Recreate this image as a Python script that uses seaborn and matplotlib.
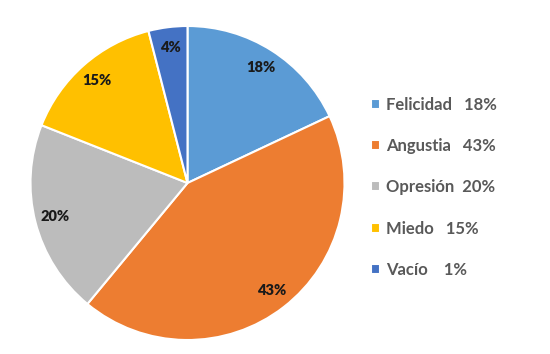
import matplotlib
matplotlib.use("Agg")
import matplotlib.pyplot as plt
import seaborn as sns
import numpy as np

sns.set_theme(style="white")
plt.rcParams['font.family'] = ['Lato', 'DejaVu Sans']

categories = ["Felicidad", "Angustia", "Opresión", "Miedo", "Vacío"]
values = [18, 43, 20, 15, 4]
pie_labels = ["18%", "43%", "20%", "15%", "4%"]
legend_labels = ["Felicidad   18%", "Angustia   43%", "Opresión  20%", "Miedo   15%", "Vacío    1%"]
colors = ["#5B9BD5", "#ED7D31", "#BCBCBC", "#FFC000", "#4472C4"]

fig = plt.figure(figsize=(5.5, 3.54), dpi=100)
ax = fig.add_axes([30/550, 14/354, 315/550, 314/354])
wedges, _ = ax.pie(values, colors=colors, startangle=90, counterclock=False,
                   wedgeprops=dict(edgecolor="white", linewidth=1.5))
ax.set_xlim(-1.0, 1.0)
ax.set_ylim(-1.0, 1.0)
ax.set_aspect("equal")
for w, lab in zip(wedges, pie_labels):
    ang = np.deg2rad((w.theta1 + w.theta2) / 2)
    r = 0.87 * w.r
    ax.text(w.center[0] + r*np.cos(ang), w.center[1] + r*np.sin(ang), lab,
            ha="center", va="center", fontsize=10.5, fontweight="heavy", color="#1a1a1a")

leg = fig.legend(wedges, legend_labels, loc="upper left", bbox_to_anchor=(364/550, 1 - 90/354),
                 frameon=False, fontsize=12, handlelength=0.55, handleheight=0.55,
                 handletextpad=0.4, labelspacing=1.52, borderaxespad=0)
for t in leg.get_texts():
    t.set_color("#595959")
    t.set_fontweight("bold")

fig.savefig("out.png", dpi=100)
